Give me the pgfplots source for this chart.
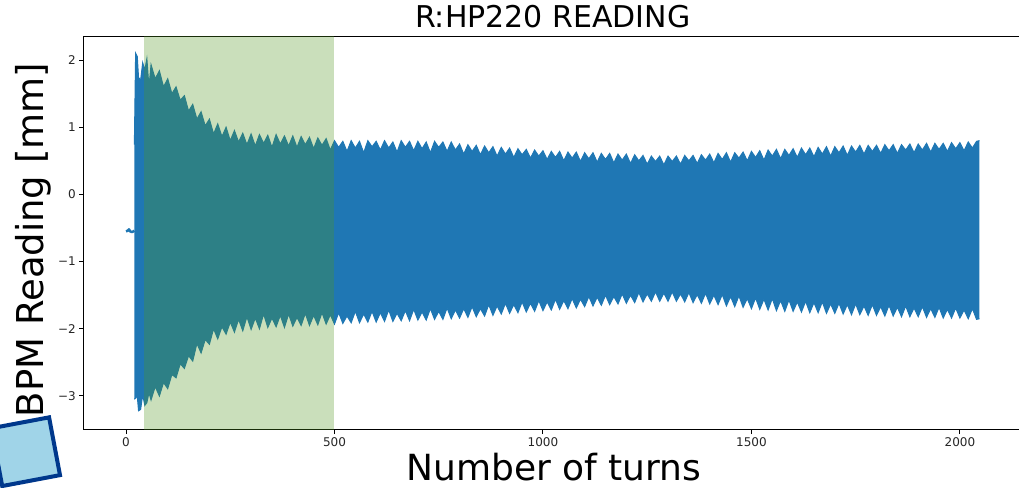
\documentclass[border=0pt]{standalone}
\usepackage{pgfplots}
\pgfplotsset{compat=1.18}
\usepgfplotslibrary{fillbetween}
\usepackage{pgfplotstable}
\usepackage{fontspec}
\setmainfont{DejaVu Sans}
\definecolor{mplblue}{RGB}{31,119,180}
\definecolor{spangreen}{RGB}{80,150,30}
\definecolor{sqfill}{RGB}{160,212,232}
\definecolor{sqedge}{RGB}{0,56,140}

\pgfplotstableread{
x up lo
20 0.74 -3.05
23 2.10 -3.03
27 2.05 -3.00
30 1.74 -3.22
35 1.70 -3.20
40 1.96 -2.98
45 1.85 -3.14
50 2.02 -3.10
55 1.60 -2.95
60 1.93 -3.06
70 1.72 -2.86
80 1.84 -3.00
90 1.60 -2.80
100 1.72 -2.89
110 1.50 -2.68
120 1.60 -2.73
130 1.40 -2.52
140 1.47 -2.59
150 1.24 -2.40
160 1.34 -2.48
170 1.12 -2.22
180 1.23 -2.36
190 1.02 -2.16
200 1.12 -2.23
210 0.90 -2.00
220 1.05 -2.15
230 0.86 -1.97
240 1.00 -2.08
250 0.80 -1.90
260 0.95 -2.05
270 0.78 -1.86
280 0.91 -2.03
290 0.74 -1.82
300 0.90 -2.01
310 0.72 -1.84
320 0.89 -2.00
330 0.76 -1.78
340 0.88 -1.98
350 0.70 -1.84
360 0.89 -1.97
370 0.75 -1.80
380 0.87 -1.98
390 0.72 -1.78
400 0.87 -1.96
410 0.70 -1.83
420 0.86 -1.95
430 0.74 -1.77
440 0.85 -1.95
450 0.68 -1.80
460 0.84 -1.94
470 0.73 -1.76
480 0.83 -1.93
490 0.66 -1.79
500 0.80 -1.93
510 0.70 -1.76
520 0.79 -1.92
530 0.64 -1.81
540 0.80 -1.91
550 0.69 -1.74
560 0.79 -1.91
570 0.62 -1.78
580 0.80 -1.90
590 0.71 -1.74
600 0.79 -1.90
610 0.66 -1.76
620 0.80 -1.89
630 0.69 -1.72
640 0.78 -1.89
650 0.63 -1.77
660 0.80 -1.88
670 0.70 -1.73
680 0.79 -1.88
690 0.65 -1.71
700 0.79 -1.87
710 0.68 -1.75
720 0.78 -1.87
730 0.62 -1.70
740 0.79 -1.86
750 0.70 -1.74
760 0.78 -1.86
770 0.64 -1.69
780 0.78 -1.85
790 0.66 -1.72
800 0.75 -1.84
810 0.60 -1.70
820 0.74 -1.83
830 0.64 -1.67
840 0.73 -1.82
850 0.59 -1.70
860 0.72 -1.81
870 0.62 -1.64
880 0.71 -1.80
890 0.57 -1.66
900 0.70 -1.78
910 0.60 -1.62
920 0.69 -1.77
930 0.55 -1.64
940 0.68 -1.76
950 0.59 -1.60
960 0.67 -1.75
970 0.54 -1.62
980 0.66 -1.74
990 0.57 -1.58
1000 0.65 -1.73
1010 0.52 -1.60
1020 0.64 -1.72
1030 0.55 -1.56
1040 0.64 -1.71
1050 0.50 -1.58
1060 0.63 -1.70
1070 0.54 -1.55
1080 0.63 -1.69
1090 0.49 -1.56
1100 0.62 -1.67
1110 0.53 -1.52
1120 0.62 -1.66
1130 0.48 -1.53
1140 0.61 -1.65
1150 0.52 -1.50
1160 0.61 -1.64
1170 0.47 -1.52
1180 0.60 -1.63
1190 0.51 -1.48
1200 0.60 -1.62
1210 0.46 -1.50
1220 0.59 -1.61
1230 0.50 -1.46
1240 0.58 -1.60
1250 0.45 -1.48
1260 0.57 -1.59
1270 0.49 -1.45
1280 0.57 -1.59
1290 0.44 -1.47
1300 0.57 -1.59
1310 0.49 -1.45
1320 0.57 -1.59
1330 0.45 -1.48
1340 0.58 -1.60
1350 0.50 -1.46
1360 0.58 -1.61
1370 0.46 -1.49
1380 0.59 -1.62
1390 0.51 -1.47
1400 0.60 -1.63
1410 0.47 -1.50
1420 0.61 -1.64
1430 0.52 -1.49
1440 0.62 -1.66
1450 0.48 -1.52
1460 0.62 -1.67
1470 0.54 -1.51
1480 0.63 -1.68
1490 0.50 -1.55
1500 0.64 -1.70
1510 0.55 -1.54
1520 0.65 -1.71
1530 0.51 -1.56
1540 0.66 -1.72
1550 0.57 -1.55
1560 0.67 -1.73
1570 0.53 -1.58
1580 0.67 -1.74
1590 0.58 -1.57
1600 0.68 -1.74
1610 0.55 -1.60
1620 0.69 -1.75
1630 0.59 -1.59
1640 0.69 -1.76
1650 0.56 -1.61
1660 0.70 -1.76
1670 0.60 -1.60
1680 0.71 -1.77
1690 0.57 -1.63
1700 0.71 -1.77
1710 0.62 -1.62
1720 0.72 -1.78
1730 0.58 -1.64
1740 0.72 -1.79
1750 0.63 -1.63
1760 0.73 -1.79
1770 0.60 -1.66
1780 0.73 -1.80
1790 0.64 -1.64
1800 0.73 -1.80
1810 0.61 -1.67
1820 0.74 -1.81
1830 0.65 -1.65
1840 0.74 -1.81
1850 0.61 -1.68
1860 0.74 -1.82
1870 0.66 -1.66
1880 0.75 -1.82
1890 0.62 -1.69
1900 0.75 -1.82
1910 0.66 -1.67
1920 0.76 -1.83
1930 0.63 -1.70
1940 0.76 -1.83
1950 0.67 -1.68
1960 0.76 -1.84
1970 0.64 -1.71
1980 0.77 -1.84
1990 0.68 -1.69
2000 0.77 -1.84
2010 0.65 -1.72
2020 0.78 -1.85
2030 0.69 -1.70
2040 0.79 -1.86
2047 0.80 -1.85
}\bpm

\begin{document}
\begin{tikzpicture}
\begin{axis}[
  at={(83.5pt,57pt)}, anchor=south west,
  width=938.5pt, height=393.5pt, scale only axis,
  xmin=-102, xmax=2149, ymin=-3.506, ymax=2.35,
  xtick={0,500,1000,1500,2000},
  xticklabels={0,500,1000,1500,2000},
  ytick={-3,-2,-1,0,1,2},
  yticklabels={−3,−2,−1,0,1,2},
  axis line style={black, line width=1pt},
  tick align=outside, major tick length=4.2pt,
  every tick/.style={black, line width=1pt},
  xtick pos=bottom, ytick pos=left,
  tick label style={font=\fontsize{12}{14}\selectfont, text=black!85},
  /pgf/number format/assume math mode=true,
  title={R:HP220 READING},
  title style={font=\fontsize{30}{36}\selectfont, at={(axis description cs:0.5,1.0064)}, anchor=base, inner sep=0pt},
  xlabel={Number of turns},
  xlabel style={font=\fontsize{36}{42}\selectfont, at={(axis description cs:0.50133,-0.1271)}, anchor=base, inner sep=0pt},
  ylabel={BPM Reading [mm]},
  ylabel style={font=\fontsize{37}{44}\selectfont, at={(axis description cs:-0.04315,0.48285)}, anchor=base, inner sep=0pt},
]
\addplot[mplblue, line width=2.5pt, line join=round] coordinates {(0,-0.55) (4,-0.54) (7,-0.52) (10,-0.55) (14,-0.56) (18,-0.55) (20,-0.54)};
\addplot[name path=U, mplblue, line width=1pt] table[x=x,y=up]{\bpm};
\addplot[name path=L, mplblue, line width=1pt] table[x=x,y=lo]{\bpm};
\addplot[mplblue] fill between[of=U and L];
\addplot[draw=none, fill=spangreen, fill opacity=0.3] coordinates {(43,-3.6) (500,-3.6) (500,2.5) (43,2.5)};
\end{axis}
\node[draw=sqedge, fill=sqfill, line width=4pt, minimum size=58.8pt, inner sep=0pt, rotate=10.7] at (25.65pt,35.3pt) {};
\pgfresetboundingbox
\useasboundingbox (0pt,0pt) rectangle (1019pt,487pt);
\end{tikzpicture}
\end{document}
